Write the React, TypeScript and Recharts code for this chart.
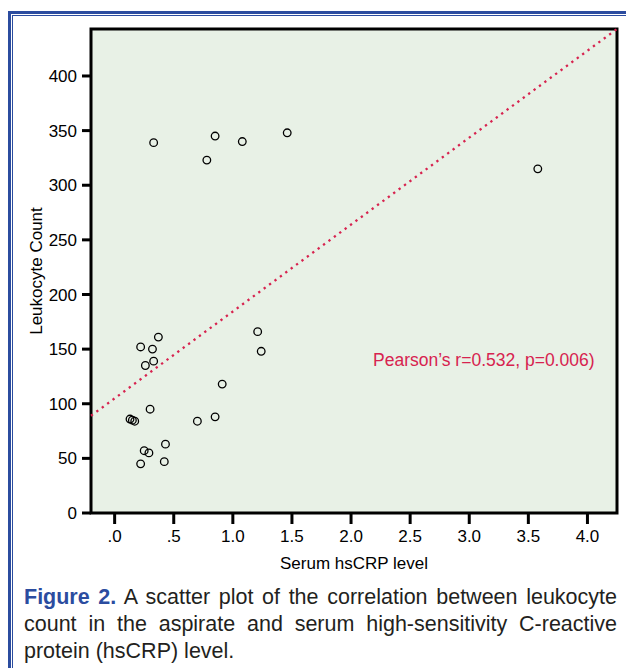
import { ScatterChart, Scatter, XAxis, YAxis, ReferenceArea, ReferenceLine, Label } from 'recharts';

// hsCRP (x) vs leukocyte count (y)
const hsCrp = [
  0.33, 0.85, 0.78, 1.08, 1.46, 3.58,
  0.22, 0.37, 0.32, 0.33, 0.26, 1.21, 1.24, 0.91, 0.3,
  0.13, 0.15, 0.17, 0.7, 0.85, 0.43, 0.25, 0.29, 0.22, 0.42,
];
const leukocytes = [
  339, 345, 323, 340, 348, 315,
  152, 161, 150, 139, 135, 166, 148, 118, 95,
  86, 85, 84, 84, 88, 63, 57, 55, 45, 47,
];
const fitX = [-0.2, 4.25];
const fitY = [89, 443];

const xTicks = [0, 0.5, 1, 1.5, 2, 2.5, 3, 3.5, 4];
const xTickLabels = ['.0', '.5', '1.0', '1.5', '2.0', '2.5', '3.0', '3.5', '4.0'];
const yTicks = [0, 50, 100, 150, 200, 250, 300, 350, 400];
const xDomain = [-0.2, 4.25];
const yDomain = [0, 443];

const points = hsCrp.map((x, i) => ({ x, y: leukocytes[i] }));
const fitSegment = fitX.map((x, i) => ({ x, y: fitY[i] }));

const FONT = '"Liberation Sans", Arial, Helvetica, sans-serif';
const BLUE = '#2b4c9f';
const RED = '#d7234f';

const OpenDot = (props: any) => (
  <circle cx={props.cx} cy={props.cy} r={3.8} fill="none" stroke="#000" strokeWidth={1.3} />
);

const App = () => {
  const tickStyle = { fill: '#000', fontSize: 17, fontFamily: FONT };
  return (
    <div style={{ position: 'absolute', left: 0, top: 0, width: 626, height: 668, background: '#fff', overflow: 'hidden' }}>
      <div style={{ position: 'absolute', left: 8, top: 11, right: -10, bottom: -10, borderTop: `3px solid ${BLUE}`, borderLeft: `3px solid ${BLUE}` }} />
      <div style={{ position: 'absolute', left: 12, top: 15, right: -10, bottom: -10, borderTop: `1px solid ${BLUE}`, borderLeft: `1px solid ${BLUE}` }} />

      <div style={{ position: 'absolute', left: 0, top: 0 }}>
        <ScatterChart width={626} height={580} margin={{ top: 29, right: 9, bottom: 17, left: 0 }}>
          <XAxis
            type="number"
            dataKey="x"
            domain={xDomain}
            ticks={xTicks}
            tickFormatter={(v: number) => xTickLabels[xTicks.indexOf(v)]}
            allowDataOverflow
            height={50}
            axisLine={false}
            tickLine={{ stroke: '#000', strokeWidth: 3 }}
            tickSize={11}
            tickMargin={6}
            tick={tickStyle}
          >
            <Label
              content={() => (
                <text x={354} y={569} textAnchor="middle" fontSize={17} fontFamily={FONT} fill="#000">
                  Serum hsCRP level
                </text>
              )}
            />
          </XAxis>
          <YAxis
            type="number"
            dataKey="y"
            domain={yDomain}
            ticks={yTicks}
            allowDataOverflow
            width={91}
            axisLine={false}
            tickLine={{ stroke: '#000', strokeWidth: 3 }}
            tickSize={9}
            tickMargin={5}
            tick={tickStyle}
          >
            <Label
              content={() => (
                <text x={42} y={271} transform="rotate(-90 42 271)" textAnchor="middle" fontSize={17} fontFamily={FONT} fill="#000">
                  Leukocyte Count
                </text>
              )}
            />
          </YAxis>
          <ReferenceArea
            x1={xDomain[0]}
            x2={xDomain[1]}
            y1={yDomain[0]}
            y2={yDomain[1]}
            fill="#e8f1e6"
            fillOpacity={1}
            stroke="#000"
            strokeWidth={3}
          />
          <ReferenceLine
            segment={fitSegment}
            stroke={RED}
            strokeWidth={2.3}
            strokeDasharray="2.3 4.4"
          />
          <Scatter data={points} shape={OpenDot} isAnimationActive={false} />
        </ScatterChart>
      </div>

      <div style={{ position: 'absolute', left: 373, top: 350, fontFamily: FONT, fontSize: 17.5, color: RED, whiteSpace: 'nowrap' }}>
        Pearson’s r=0.532, p=0.006)
      </div>

      <div style={{ position: 'absolute', left: 24, top: 584, width: 593, fontFamily: FONT, fontSize: 21.5, lineHeight: '26.8px', color: '#231f20' }}>
        <div style={{ textAlign: 'justify', textAlignLast: 'justify', whiteSpace: 'nowrap' }}>
          <span style={{ color: BLUE, fontWeight: 'bold' }}>Figure 2.</span> A scatter plot of the correlation between leukocyte
        </div>
        <div style={{ textAlign: 'justify', textAlignLast: 'justify', whiteSpace: 'nowrap' }}>
          count in the aspirate and serum high-sensitivity C-reactive
        </div>
        <div>protein (hsCRP) level.</div>
      </div>
    </div>
  );
};

export default App;
